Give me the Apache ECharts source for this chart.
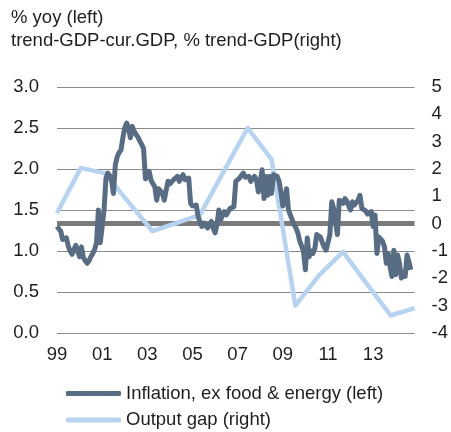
<!DOCTYPE html>
<html>
<head>
<meta charset="utf-8">
<script src="https://cdn.jsdelivr.net/npm/echarts@6/dist/echarts.min.js"></script>
<style>html,body{margin:0;padding:0;background:#fff}#c{width:451px;height:432px}</style>
</head>
<body>
<div id="c"></div>
<script>
// Monthly core inflation, Jan 1999 .. Sep 2014 (% yoy, left axis)
const inflation = [
1.30,1.28,1.24,1.14,1.12,1.16,1.06,1.00,0.96,0.98,1.07,1.00,
0.93,1.05,0.92,0.88,0.85,0.88,0.93,0.97,1.02,1.10,1.50,1.10,
1.08,1.50,1.88,1.95,1.92,1.86,1.70,2.05,2.15,2.20,2.23,2.38,
2.50,2.56,2.50,2.38,2.52,2.46,2.42,2.39,2.34,2.30,2.25,1.88,
1.87,1.97,1.86,1.84,1.78,1.62,1.76,1.73,1.70,1.62,1.74,1.85,
1.82,1.83,1.87,1.85,1.91,1.85,1.90,1.93,1.87,1.88,1.89,1.58,
1.55,1.54,1.56,1.42,1.35,1.30,1.34,1.36,1.28,1.32,1.36,1.28,
1.22,1.32,1.50,1.38,1.44,1.48,1.44,1.46,1.52,1.53,1.54,1.85,
1.87,1.89,1.91,1.95,1.90,1.89,1.91,1.85,1.88,1.91,1.87,1.72,
1.85,1.99,1.64,1.91,1.68,1.91,1.70,1.93,1.92,1.91,1.85,1.72,
1.55,1.60,1.76,1.50,1.44,1.38,1.32,1.28,1.22,1.12,1.06,0.99,
0.77,1.16,0.93,1.00,0.97,1.03,1.20,1.18,1.17,1.10,1.05,1.01,
0.99,1.20,1.60,1.52,1.50,1.20,1.62,1.64,1.58,1.64,1.61,1.55,
1.50,1.60,1.56,1.57,1.62,1.68,1.52,1.52,1.49,1.45,1.44,1.48,
1.30,1.44,0.97,1.17,1.15,1.12,1.05,0.85,0.97,0.81,0.69,1.01,
0.71,0.95,0.85,0.67,0.73,0.69,0.95,0.87,0.77
];
// Annual output gap 1999..2014 (% of trend GDP, right axis)
const gapYears = [1999,2000,2001,2002,2003,2004,2005,2006,2007,2008,2009,2010,2011,2012,2013,2014];
const outputGap = [0.39,2.04,1.85,0.79,-0.27,0.02,0.32,1.92,3.50,2.35,-3.00,-1.88,-1.03,-2.20,-3.36,-3.09];
const leftTicks = [0,0.5,1,1.5,2,2.5,3];
const rightTicks = [-4,-3,-2,-1,0,1,2,3,4,5];
const seriesNames = ['Inflation, ex food & energy (left)','Output gap (right)'];
const titleLines = ['% yoy (left)','trend-GDP-cur.GDP, % trend-GDP(right)'];

const startYear = 1999;
const inflData = inflation.map((v,i)=>[i,v]);
const gapData = outputGap.map((v,i)=>[gapYears[i]-startYear,v]);

const font = 'Liberation Sans, Arial, sans-serif';
const txt = '#1e1e1e';
const fs = 18.5;
const chart = echarts.init(document.getElementById('c'), null, {renderer:'canvas'});
chart.setOption({
  animation:false,
  backgroundColor:'#fff',
  title:{
    text: titleLines.join('\n'),
    left: 6, top: 1,
    textStyle:{fontFamily:font,fontSize:fs,fontWeight:'normal',color:txt,lineHeight:23}
  },
  legend:{
    orient:'vertical', left:66, top:384, padding:0,
    itemWidth:55, itemHeight:5, itemGap:7.5,
    icon:'roundRect',
    textStyle:{fontFamily:font,fontSize:fs,color:txt},
    data: seriesNames
  },
  grid:{left:57,right:31,top:87,bottom:99,containLabel:false},
  xAxis:[
    {type:'value',min:0,max:190,interval:24,
     axisLine:{show:false},axisTick:{show:false},splitLine:{show:false},
     axisLabel:{margin:12,fontFamily:font,fontSize:fs,color:txt,showMaxLabel:false,
       formatter:v=> (v%24===0)? String((startYear+v/12)%100).padStart(2,'0') : ''}},
    {type:'value',min:0,max:15,show:false}
  ],
  yAxis:[
    {type:'value',min:leftTicks[0],max:leftTicks[leftTicks.length-1],interval:0.5,
     axisLine:{show:false},axisTick:{show:false},
     splitLine:{lineStyle:{color:'#8a8a8a',width:1}},
     axisLabel:{margin:18,fontFamily:font,fontSize:fs,color:txt,formatter:v=>v.toFixed(1)}},
    {type:'value',min:rightTicks[0],max:rightTicks[rightTicks.length-1],interval:1,
     axisLine:{show:false},axisTick:{show:false},splitLine:{show:false},
     axisLabel:{margin:17,fontFamily:font,fontSize:fs,color:txt,align:'left'}}
  ],
  series:[
    {name:seriesNames[0],type:'line',xAxisIndex:0,yAxisIndex:0,data:inflData,
     showSymbol:false,symbol:'none',z:4,
     lineStyle:{color:'#586d83',width:5,join:'round'},itemStyle:{color:'#586d83'}},
    {name:seriesNames[1],type:'line',xAxisIndex:1,yAxisIndex:1,data:gapData,
     showSymbol:false,symbol:'none',z:3,
     lineStyle:{color:'#b7d3f0',width:4.5,join:'round'},itemStyle:{color:'#b7d3f0'},
     markLine:{silent:true,symbol:'none',label:{show:false},z:1,
       lineStyle:{color:'#7b7b7b',width:5,type:'solid'},
       data:[{yAxis:0}]}}
  ]
});
</script>
</body>
</html>
